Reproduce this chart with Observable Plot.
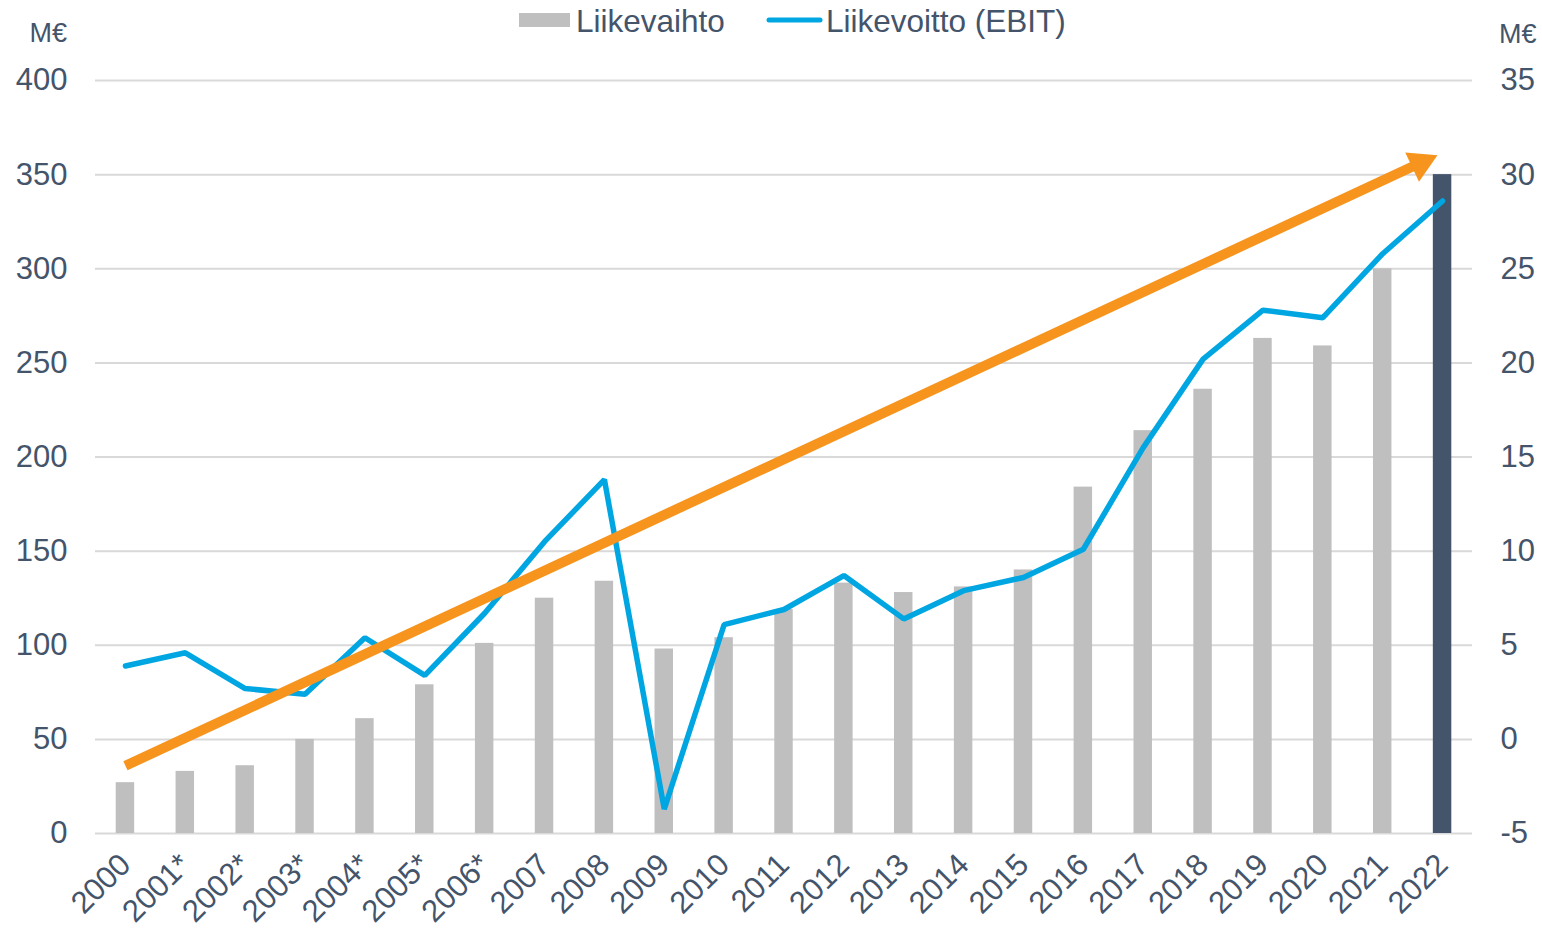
<!DOCTYPE html>
<html>
<head>
<meta charset="utf-8">
<script src="https://cdn.jsdelivr.net/npm/d3@7"></script>
<script src="https://cdn.jsdelivr.net/npm/@observablehq/plot@0.6"></script>
<style>
  html, body { margin: 0; padding: 0; background: #fff; }
  #wrap { position: relative; width: 1542px; height: 931px; font-family: "Liberation Sans", Arial, sans-serif; }
  #wrap svg { position: absolute; left: 0; top: 0; }
</style>
</head>
<body>
<div id="wrap"></div>
<script>
// ---- data ----
const years = ["2000","2001*","2002*","2003*","2004*","2005*","2006*","2007","2008","2009","2010","2011","2012","2013","2014","2015","2016","2017","2018","2019","2020","2021","2022"];
const revenue = [27,33,36,50,61,79,101,125,134,98,104,119,133,128,131,140,184,214,236,263,259,300,350];
const ebit = [3.9,4.6,2.7,2.4,5.4,3.4,6.7,10.5,13.8,-3.7,6.1,6.9,8.7,6.4,7.9,8.6,10.1,15.5,20.2,22.8,22.4,25.8,28.6];
const leftTicks = [0,50,100,150,200,250,300,350,400];
const rightTicks = [-5,0,5,10,15,20,25,30,35];
const trendStart = {year: "2000", value: 36};
const trendEnd = {year: "2022", value: 361.7};
const legendLabels = ["Liikevaihto", "Liikevoitto (EBIT)"];
const unitLabel = "M€";

const textColor = "#44546A";
const rows = years.map((y, i) => ({year: y, rev: revenue[i], ebit: ebit[i], last: i === years.length - 1}));
// right axis (-5..35) mapped onto left axis (0..400)
const toLeft = v => (v + 5) * 10;

const chart = Plot.plot({
  width: 1542,
  height: 931,
  marginLeft: 95,
  marginRight: 70,
  marginTop: 80,
  marginBottom: 98,
  style: {fontFamily: "'Liberation Sans', Arial, sans-serif", color: textColor, background: "transparent"},
  x: {type: "band", domain: years, paddingInner: 0, paddingOuter: 0, round: false, label: null},
  y: {domain: [0, 400], label: null},
  marks: [
    Plot.ruleY(leftTicks, {stroke: "#D9D9D9", strokeWidth: 2}),
    Plot.barY(rows, {x: "year", y: "rev", fill: d => d.last ? "#44546A" : "#BFBFBF", insetLeft: 20.7, insetRight: 20.7}),
    Plot.line(rows, {x: "year", y: d => toLeft(d.ebit), stroke: "#00A6E2", strokeWidth: 5.5, strokeLinejoin: "miter", strokeLinecap: "round"}),
    Plot.arrow([0], {x1: () => trendStart.year, y1: () => trendStart.value, x2: () => trendEnd.year, y2: () => trendEnd.value,
      stroke: "#F7941D", strokeWidth: 10, headLength: 0, insetEnd: 30, strokeLinecap: "butt"}),
    Plot.dot([0], {x: () => trendEnd.year, y: () => trendEnd.value, dx: -22, dy: 10.5, symbol: "triangle", r: 12,
      fill: "#F7941D", stroke: "none", rotate: 64.8}),
    Plot.axisY({anchor: "left", ticks: leftTicks, tickSize: 0, tickPadding: 28, fontSize: 31, fill: textColor, label: null}),
    Plot.axisY({anchor: "right", ticks: rightTicks.map(toLeft), tickFormat: d => String(d / 10 - 5), tickSize: 0, tickPadding: 28, fontSize: 31, fill: textColor, label: null}),
    Plot.axisX({tickRotate: -45, tickSize: 0, tickPadding: 26, fontSize: 31, fill: textColor, label: null})
  ]
});
document.getElementById("wrap").appendChild(chart);

// legend and unit labels (overlay, real text)
const ov = d3.select("#wrap").append("svg")
  .attr("width", 1542).attr("height", 60)
  .style("font-family", "'Liberation Sans', Arial, sans-serif");
ov.append("rect").attr("x", 519).attr("y", 13).attr("width", 51).attr("height", 14).attr("fill", "#BFBFBF");
ov.append("text").attr("x", 576).attr("y", 32).attr("font-size", 31.5).attr("fill", textColor).text(legendLabels[0]);
ov.append("line").attr("x1", 769).attr("x2", 820).attr("y1", 20).attr("y2", 20)
  .attr("stroke", "#00A6E2").attr("stroke-width", 5).attr("stroke-linecap", "round");
ov.append("text").attr("x", 826).attr("y", 32).attr("font-size", 31.5).attr("fill", textColor).text(legendLabels[1]);
ov.append("text").attr("x", 67).attr("y", 42).attr("font-size", 27).attr("text-anchor", "end").attr("fill", textColor).text(unitLabel);
ov.append("text").attr("x", 1499).attr("y", 43).attr("font-size", 27).attr("fill", textColor).text(unitLabel);
</script>
</body>
</html>
